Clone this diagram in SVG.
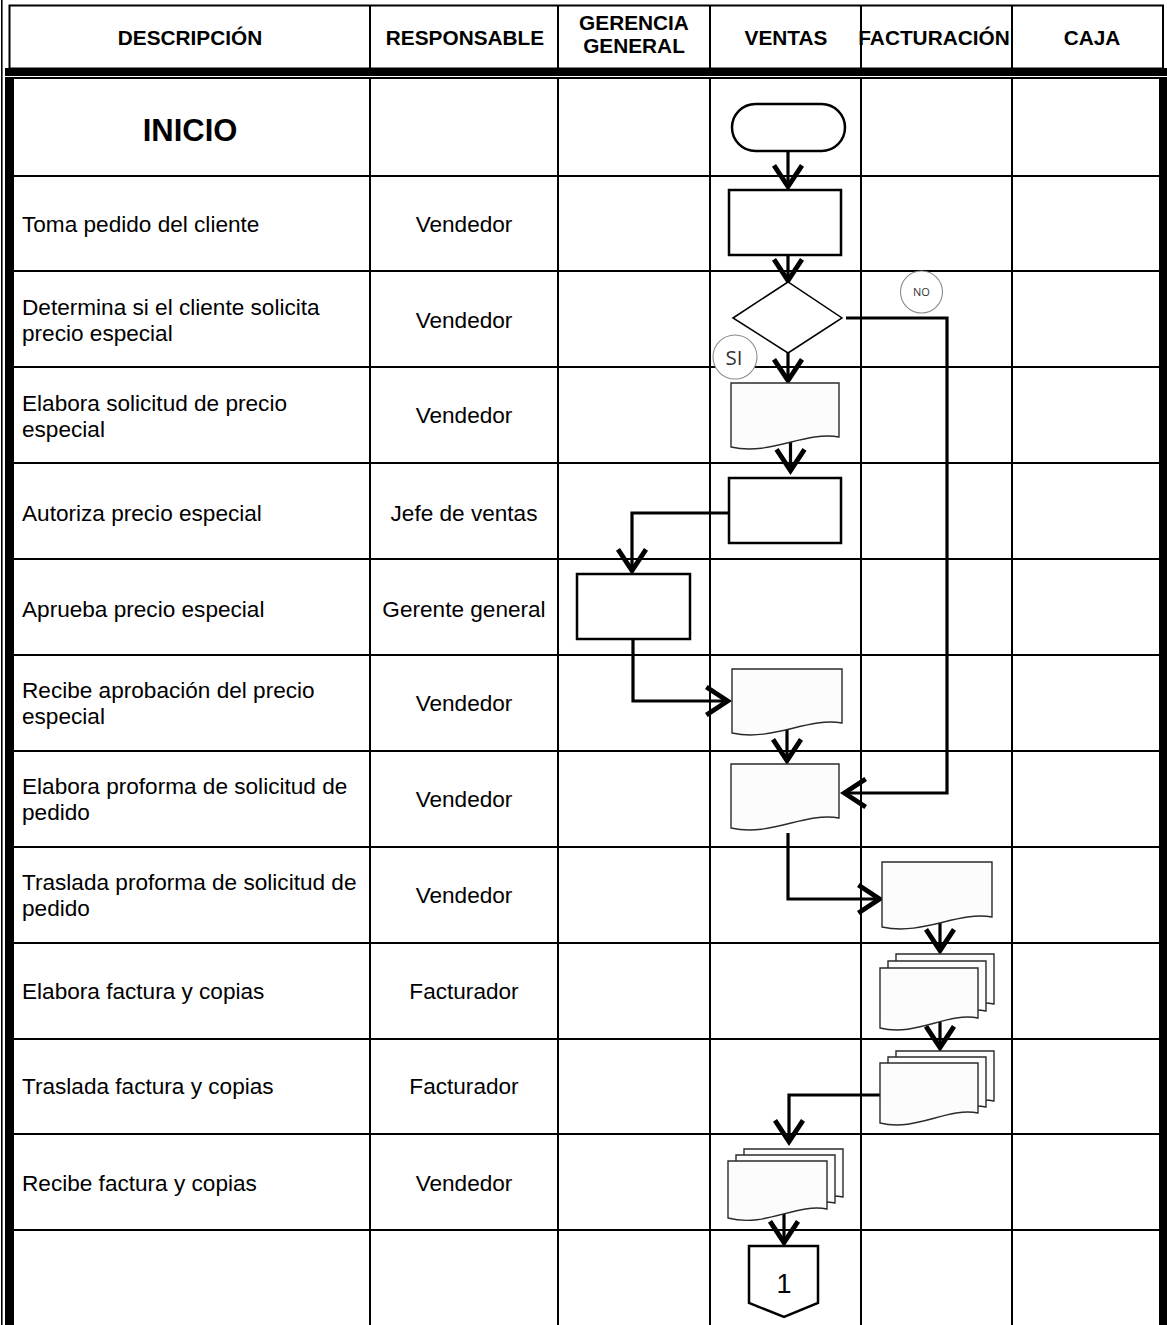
<svg xmlns="http://www.w3.org/2000/svg" width="1167" height="1325" viewBox="0 0 1167 1325">
  <style>
    .hdr { font-family: "Liberation Sans", Arial, sans-serif; font-weight: bold; font-size: 20.8px; text-anchor: middle; fill: #000; }
    .txt { font-family: "Liberation Sans", Arial, sans-serif; font-size: 22.6px; fill: #000; }
    .mid { text-anchor: middle; }
    .grid { stroke: #000; stroke-width: 2; fill: none; }
    .proc { fill: #fff; stroke: #000; stroke-width: 2.5; }
    .doc { fill: #fcfcfc; stroke: #2a2a2a; stroke-width: 1.4; }
    .flow { fill: none; stroke: #000; stroke-width: 3.2; stroke-linejoin: miter; }
    .tag { fill: #fff; stroke: #8a8a8a; stroke-width: 1.1; }
    .tagtxt { font-family: "Open Sans", "Liberation Sans", sans-serif; fill: #333; text-anchor: middle; }
  </style>
  <defs>
    <marker id="arrow" markerUnits="userSpaceOnUse" orient="auto" refX="0" refY="0" markerWidth="40" markerHeight="40" viewBox="-25 -15 30 30" overflow="visible">
      <path d="M-17,-10.5 L-1,0 L-17,10.5" fill="none" stroke="#000" stroke-width="3.6"/>
    </marker>
  </defs>

  <rect width="1167" height="1325" fill="#fff"/>

  <!-- table frame -->
  <g id="table">
    <line x1="1.8" y1="0" x2="1.8" y2="1325" stroke="#000" stroke-width="1.6"/>
    <rect x="9.5" y="5.5" width="1153.5" height="63" class="grid"/>
    <rect x="5" y="68" width="1162" height="8" fill="#000"/>
    <line x1="5" y1="78" x2="1167" y2="78" stroke="#000" stroke-width="1.8"/>
    <rect x="5" y="77" width="9" height="1248" fill="#000"/>
    <rect x="1159" y="77" width="8" height="1248" fill="#000"/>
    <!-- column rules -->
    <path class="grid" d="M370,5 V68 M370,78 V1325 M558,5 V68 M558,78 V1325 M710,5 V68 M710,78 V1325 M861,5 V68 M861,78 V1325 M1012,5 V68 M1012,78 V1325"/>
    <!-- row rules -->
    <path class="grid" d="M14,176 H1159 M14,271 H1159 M14,367 H1159 M14,463 H1159 M14,559 H1159 M14,655 H1159 M14,751 H1159 M14,847 H1159 M14,943 H1159 M14,1039 H1159 M14,1134 H1159 M14,1230 H1159"/>
  </g>

  <!-- column headings -->
  <g id="headings">
    <text class="hdr" x="190" y="45">DESCRIPCIÓN</text>
    <text class="hdr" x="465" y="45">RESPONSABLE</text>
    <text class="hdr" x="634" y="30">GERENCIA</text>
    <text class="hdr" x="634" y="53">GENERAL</text>
    <text class="hdr" x="786" y="45">VENTAS</text>
    <text class="hdr" x="934" y="45" font-size="19">FACTURACIÓN</text>
    <text class="hdr" x="1092" y="45">CAJA</text>
  </g>

  <!-- step descriptions and responsible roles -->
  <g id="rows">
    <text x="190" y="141" font-family="Liberation Sans, Arial, sans-serif" font-weight="bold" font-size="31" text-anchor="middle">INICIO</text>

    <text class="txt" x="22" y="232">Toma pedido del cliente</text>
    <text class="txt mid" x="464" y="232">Vendedor</text>

    <text class="txt" x="22" y="315">Determina si el cliente solicita</text>
    <text class="txt" x="22" y="341">precio especial</text>
    <text class="txt mid" x="464" y="328">Vendedor</text>

    <text class="txt" x="22" y="411">Elabora solicitud de precio</text>
    <text class="txt" x="22" y="437">especial</text>
    <text class="txt mid" x="464" y="423">Vendedor</text>

    <text class="txt" x="22" y="521">Autoriza precio especial</text>
    <text class="txt mid" x="464" y="521">Jefe de ventas</text>

    <text class="txt" x="22" y="617">Aprueba precio especial</text>
    <text class="txt mid" x="464" y="617">Gerente general</text>

    <text class="txt" x="22" y="698">Recibe aprobación del precio</text>
    <text class="txt" x="22" y="724">especial</text>
    <text class="txt mid" x="464" y="711">Vendedor</text>

    <text class="txt" x="22" y="794">Elabora proforma de solicitud de</text>
    <text class="txt" x="22" y="820">pedido</text>
    <text class="txt mid" x="464" y="807">Vendedor</text>

    <text class="txt" x="22" y="890">Traslada proforma de solicitud de</text>
    <text class="txt" x="22" y="916">pedido</text>
    <text class="txt mid" x="464" y="903">Vendedor</text>

    <text class="txt" x="22" y="999">Elabora factura y copias</text>
    <text class="txt mid" x="464" y="999">Facturador</text>

    <text class="txt" x="22" y="1094">Traslada factura y copias</text>
    <text class="txt mid" x="464" y="1094">Facturador</text>

    <text class="txt" x="22" y="1191">Recibe factura y copias</text>
    <text class="txt mid" x="464" y="1191">Vendedor</text>
  </g>

  <!-- connectors -->
  <g id="connectors">
    <path class="flow" d="M788,151 V188" marker-end="url(#arrow)"/>
    <path class="flow" d="M788,255 V282" marker-end="url(#arrow)"/>
    <path class="flow" d="M846,318 H947 V793 H843" marker-end="url(#arrow)"/>
    <path class="flow" d="M788,353 V382" marker-end="url(#arrow)"/>
    <path class="flow" d="M790.5,441 V472" marker-end="url(#arrow)"/>
    <path class="flow" d="M731,513 H632 V572" marker-end="url(#arrow)"/>
    <path class="flow" d="M633,633 V701 H729" marker-end="url(#arrow)"/>
    <path class="flow" d="M787,730 V762" marker-end="url(#arrow)"/>
    <path class="flow" d="M788,833 V899 H881" marker-end="url(#arrow)"/>
    <path class="flow" d="M940,923 V952" marker-end="url(#arrow)"/>
    <path class="flow" d="M940,1022 V1049" marker-end="url(#arrow)"/>
    <path class="flow" d="M880,1095 H789 V1143" marker-end="url(#arrow)"/>
    <path class="flow" d="M784,1213 V1244" marker-end="url(#arrow)"/>
  </g>

  <!-- flowchart symbols -->
  <g id="n-inicio">
    <rect x="732" y="104" width="113" height="47" rx="23.5" class="proc" stroke-width="2"/>
  </g>
  <g id="n-toma-pedido">
    <rect x="729" y="190" width="112" height="65" class="proc"/>
  </g>
  <g id="n-decision">
    <path d="M733,318 L788,282 L842,318 L788,353 Z" fill="#fff" stroke="#000" stroke-width="1.5"/>
  </g>
  <g id="n-solicitud">
    <path class="doc" d="M731,383 H839 V437 C804,431 771,456 731,447 Z"/>
  </g>
  <g id="n-autoriza">
    <rect x="729" y="478" width="112" height="65" class="proc"/>
  </g>
  <g id="n-aprueba">
    <rect x="577" y="574" width="113" height="65" class="proc"/>
  </g>
  <g id="n-recibe-aprobacion">
    <path class="doc" d="M732,669 H842 V723 C807,717 773,742 732,733 Z"/>
  </g>
  <g id="n-proforma">
    <path class="doc" d="M731,764 H839 V818 C804,812 771,837 731,828 Z"/>
  </g>
  <g id="n-traslada-proforma">
    <path class="doc" d="M882,862 H992 V917 C957,911 923,936 882,927 Z"/>
  </g>
  <g id="n-factura">
    <path class="doc" d="M896,954 H994 V1004 C963,998 932,1023 896,1014 Z"/>
    <path class="doc" d="M888,961 H986 V1011 C955,1005 924,1030 888,1021 Z"/>
    <path class="doc" d="M880,968 H978 V1018 C947,1012 916,1037 880,1028 Z"/>
  </g>
  <g id="n-traslada-factura">
    <path class="doc" d="M896,1051 H994 V1101 C963,1095 932,1120 896,1111 Z"/>
    <path class="doc" d="M888,1057 H986 V1107 C955,1101 924,1126 888,1117 Z"/>
    <path class="doc" d="M880,1063 H978 V1113 C947,1107 916,1132 880,1123 Z"/>
  </g>
  <g id="n-recibe-factura">
    <path class="doc" d="M744,1149 H843 V1197 C812,1191 781,1216 744,1206 Z"/>
    <path class="doc" d="M736,1155 H835 V1203 C804,1197 773,1222 736,1212 Z"/>
    <path class="doc" d="M728,1161 H827 V1209 C796,1203 765,1228 728,1218 Z"/>
  </g>
  <g id="n-conector">
    <path d="M749,1246 H818 V1303 L784,1317 L749,1303 Z" class="proc"/>
    <text x="784" y="1293" font-family="Liberation Sans, Arial, sans-serif" font-size="27" text-anchor="middle">1</text>
  </g>

  <!-- branch labels -->
  <g id="lbl-no">
    <circle cx="921.5" cy="292" r="21" class="tag"/>
    <text class="tagtxt" x="921.5" y="296" font-size="11">NO</text>
  </g>
  <g id="lbl-si">
    <circle cx="735" cy="357" r="22" class="tag"/>
    <text class="tagtxt" x="734" y="364.5" font-size="20.5">SI</text>
  </g>
</svg>
